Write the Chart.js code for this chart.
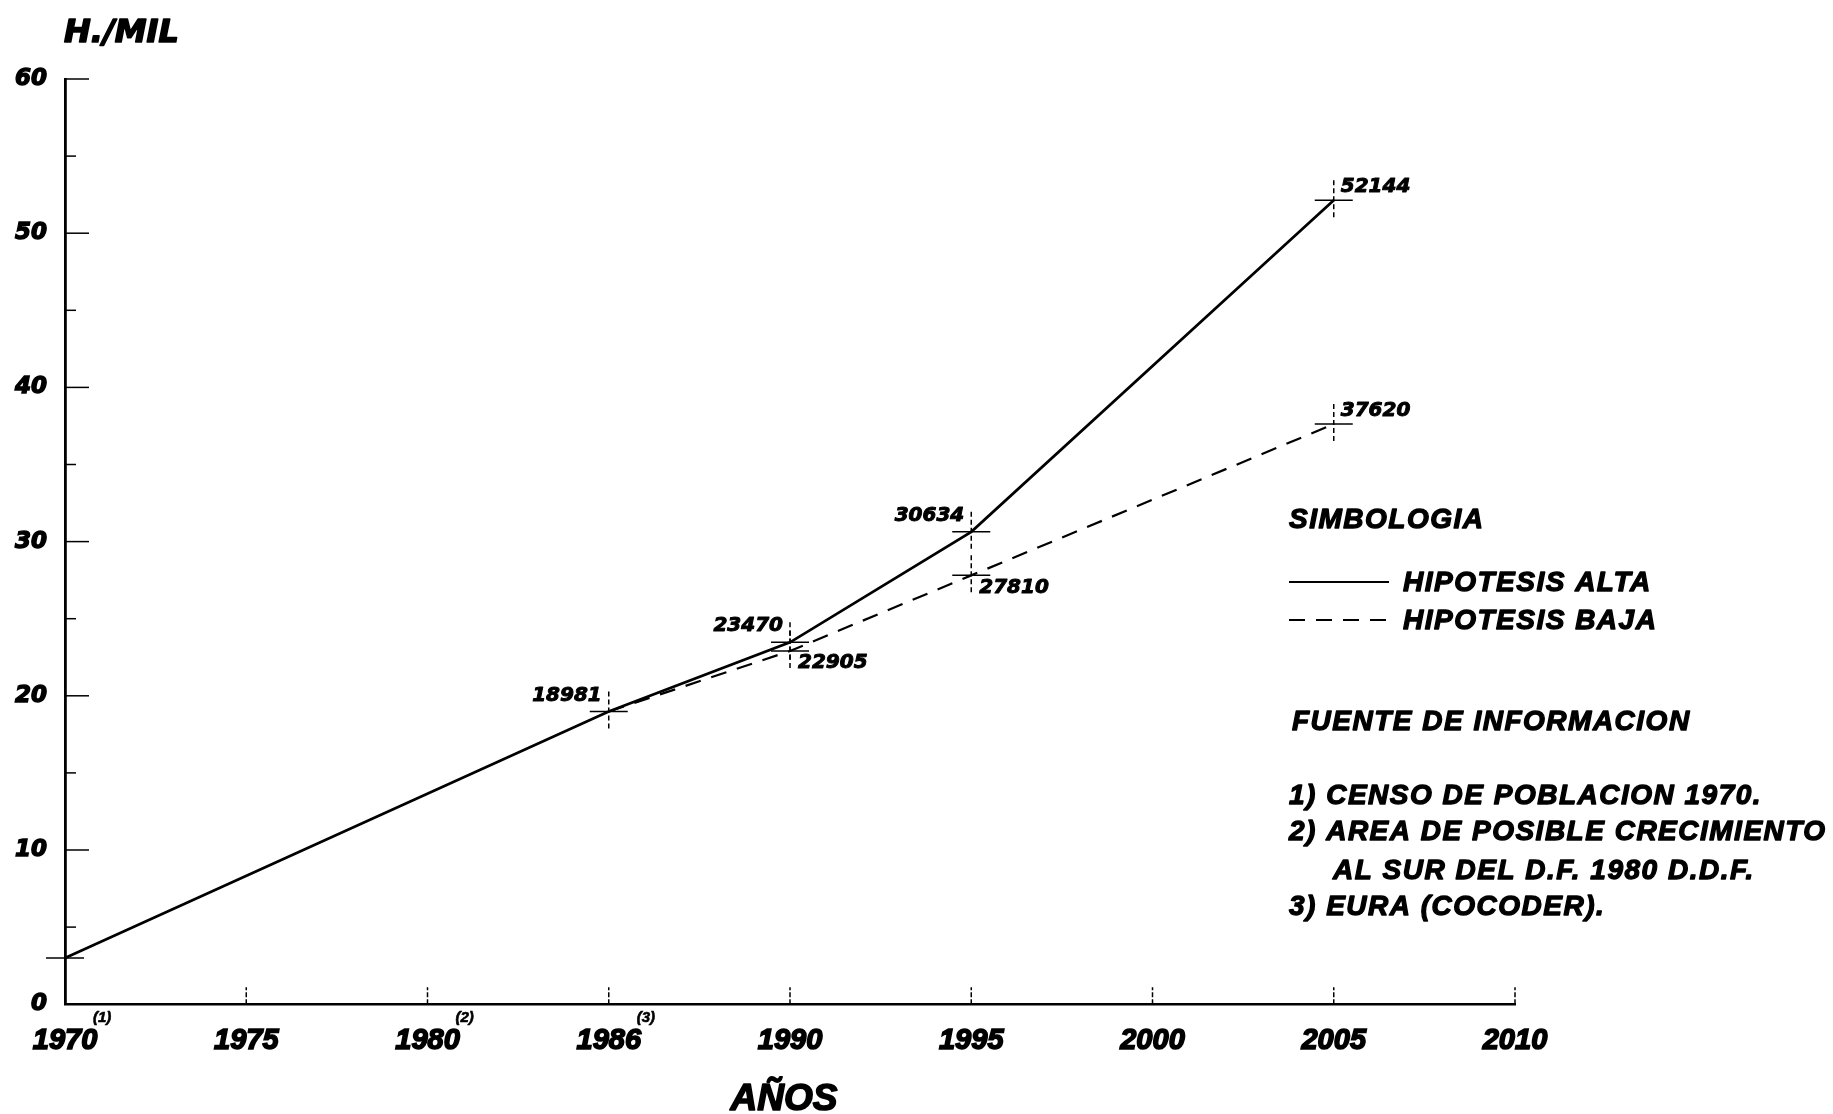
<!DOCTYPE html>
<html>
<head>
<meta charset="utf-8">
<script src="https://cdn.jsdelivr.net/npm/chart.js@4.4.1/dist/chart.umd.min.js"></script>
<style>
  html, body { margin: 0; padding: 0; background: #fff; }
  canvas { display: block; }
</style>
</head>
<body>
<canvas id="c" width="1833" height="1114"></canvas>
<script>
// Population projection (thousands of inhabitants)
const years = ['1970', '1975', '1980', '1986', '1990', '1995', '2000', '2005', '2010'];
const yearNotes = ['(1)', '', '(2)', '(3)', '', '', '', '', ''];
const hipotesisAlta = [3.0, null, null, 18.981, 23.470, 30.634, null, 52.144, null];
const hipotesisBaja = [null, null, null, 18.981, 22.905, 27.810, null, 37.620, null];
const yTicks = [0, 10, 20, 30, 40, 50, 60];
const seriesNames = ['HIPOTESIS ALTA', 'HIPOTESIS BAJA'];
const yTitle = 'H./MIL';
const xTitle = 'AÑOS';
const legendTitle = 'SIMBOLOGIA';
const sourcesTitle = 'FUENTE DE INFORMACION';
const sources = [
  '1) CENSO DE POBLACION 1970.',
  '2) AREA DE POSIBLE CRECIMIENTO',
  'AL SUR DEL D.F. 1980 D.D.F.',
  '3) EURA (COCODER).'
];

// which side of the point each value label sits on
const altaLabelSide = { 3: 'nw', 4: 'nw', 5: 'nw', 7: 'ne' };
const bajaLabelSide = { 4: 'se', 5: 'se', 7: 'ne' };

const DASH = [16, 11];

function seg(ctx, x1, y1, x2, y2) {
  ctx.beginPath();
  ctx.moveTo(x1, y1);
  ctx.lineTo(x2, y2);
  ctx.stroke();
}

// heavy lettering: fill plus a thin outline of the same colour
function heavyText(ctx, txt, x, y, w) {
  ctx.fillText(txt, x, y);
  ctx.lineWidth = w;
  ctx.setLineDash([]);
  ctx.strokeText(txt, x, y);
}

const decorations = {
  id: 'decorations',
  afterDatasetsDraw(chart) {
    const ctx = chart.ctx;
    const xs = chart.scales.x;
    const ys = chart.scales.y;
    const area = chart.chartArea;
    ctx.save();
    ctx.strokeStyle = '#000';
    ctx.fillStyle = '#000';
    ctx.lineJoin = 'round';

    // inner ticks on the value axis: long at tens, short at fives
    ctx.lineWidth = 1.5;
    for (let v = 5; v <= 60; v += 5) {
      const py = ys.getPixelForValue(v);
      seg(ctx, area.left, py, area.left + (v % 10 === 0 ? 24 : 11), py);
    }
    // short upward ticks on the year axis
    ctx.setLineDash([5, 2]);
    for (let i = 1; i < years.length; i++) {
      const px = xs.getPixelForValue(i);
      seg(ctx, px, area.bottom, px, area.bottom - 17);
    }
    ctx.setLineDash([]);

    // crosshair marks on data points
    function cross(px, py) {
      ctx.lineWidth = 1.5;
      ctx.setLineDash([]);
      seg(ctx, px - 19, py, px + 19, py);
      ctx.setLineDash([5, 3]);
      seg(ctx, px, py - 20, px, py + 20);
      ctx.setLineDash([]);
    }
    hipotesisAlta.forEach((v, i) => {
      if (v !== null) cross(xs.getPixelForValue(i), ys.getPixelForValue(v));
    });
    Object.keys(bajaLabelSide).forEach(k => {
      const i = +k;
      cross(xs.getPixelForValue(i), ys.getPixelForValue(hipotesisBaja[i]));
    });

    // value labels
    ctx.font = 'italic bold 20px "DejaVu Sans"';
    ctx.textBaseline = 'middle';
    function label(series, sides) {
      Object.keys(sides).forEach(k => {
        const i = +k;
        const v = series[i];
        const px = xs.getPixelForValue(i);
        const py = ys.getPixelForValue(v);
        const txt = String(Math.round(v * 1000));
        const side = sides[k];
        if (side === 'nw') { ctx.textAlign = 'right'; heavyText(ctx, txt, px - 7, py - 16, 1); }
        else if (side === 'ne') { ctx.textAlign = 'left'; heavyText(ctx, txt, px + 7, py - 13, 1); }
        else { ctx.textAlign = 'left'; heavyText(ctx, txt, px + 8, py + 12, 1); }
      });
    }
    label(hipotesisAlta, altaLabelSide);
    label(hipotesisBaja, bajaLabelSide);

    // note markers next to year labels
    ctx.font = 'italic bold 15px "Liberation Sans"';
    ctx.textAlign = 'left';
    yearNotes.forEach((n, i) => {
      if (n) heavyText(ctx, n, xs.getPixelForValue(i) + 28, area.bottom + 14, 0.6);
    });

    // axis titles
    ctx.font = 'italic bold 32px "DejaVu Sans"';
    ctx.textAlign = 'left';
    heavyText(ctx, yTitle, 64, 34, 1.6);
    ctx.font = 'italic bold 37px "Liberation Sans"';
    ctx.textAlign = 'center';
    heavyText(ctx, xTitle, (area.left + area.right) / 2 - 6, 1100, 1.6);

    // key and sources block
    const bx = 1289;
    ctx.font = 'italic bold 28px "Liberation Sans"';
    ctx.letterSpacing = '1.5px';
    ctx.textAlign = 'left';
    heavyText(ctx, legendTitle, bx, 520, 1.3);

    ctx.lineWidth = 2.2;
    seg(ctx, bx, 582, bx + 100, 582);
    ctx.setLineDash(DASH);
    seg(ctx, bx, 620, bx + 100, 620);
    ctx.setLineDash([]);
    heavyText(ctx, seriesNames[0], 1403, 583, 1.3);
    heavyText(ctx, seriesNames[1], 1403, 621, 1.3);

    heavyText(ctx, sourcesTitle, 1292, 722, 1.3);
    const lineY = [796, 832, 871, 907];
    sources.forEach((s, i) => {
      const indent = /^\d/.test(s) ? 0 : 44;
      heavyText(ctx, s, bx + indent, lineY[i], 1.3);
    });
    ctx.restore();
  }
};

new Chart(document.getElementById('c'), {
  type: 'line',
  data: {
    labels: years,
    datasets: [
      {
        label: seriesNames[0],
        data: hipotesisAlta,
        borderColor: '#000',
        borderWidth: 2.7,
        pointRadius: 0,
        tension: 0,
        spanGaps: true
      },
      {
        label: seriesNames[1],
        data: hipotesisBaja,
        borderColor: '#000',
        borderWidth: 2.2,
        borderDash: DASH,
        pointRadius: 0,
        tension: 0,
        spanGaps: true
      }
    ]
  },
  options: {
    responsive: false,
    animation: false,
    devicePixelRatio: 1,
    layout: { padding: { left: 5, right: 318, top: 79, bottom: 45 } },
    plugins: { legend: { display: false }, tooltip: { enabled: false } },
    scales: {
      x: {
        type: 'category',
        offset: false,
        grid: { display: false },
        border: { display: true, color: '#000', width: 2.5 },
        ticks: {
          color: '#000',
          padding: 11,
          maxRotation: 0,
          autoSkip: false,
          textStrokeColor: '#000',
          textStrokeWidth: 1.6,
          font: { family: 'Liberation Sans', size: 29, weight: 'bold', style: 'italic' }
        }
      },
      y: {
        min: 0,
        max: 60,
        afterBuildTicks(scale) { scale.ticks = yTicks.map(v => ({ value: v })); },
        grid: { display: false },
        border: { display: true, color: '#000', width: 2.8 },
        ticks: {
          color: '#000',
          padding: 10,
          textStrokeColor: '#000',
          textStrokeWidth: 1.4,
          font: { family: 'DejaVu Sans', size: 23, weight: 'bold', style: 'italic' }
        }
      }
    }
  },
  plugins: [decorations]
});
</script>
</body>
</html>
